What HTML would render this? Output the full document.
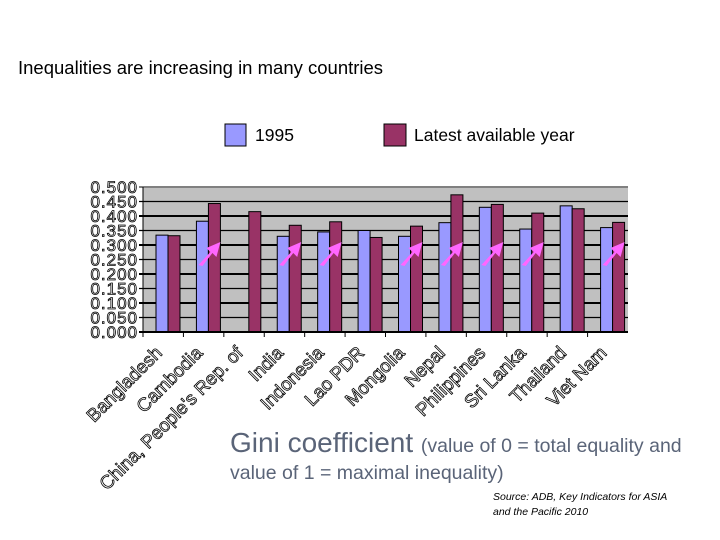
<!DOCTYPE html>
<html><head><meta charset="utf-8"><style>
body{margin:0;background:#fff;}
svg{display:block;font-family:"Liberation Sans",sans-serif;}
</style></head><body>
<svg id="c" width="720" height="540">
<text x="18" y="74" font-size="18.5">Inequalities are increasing in many countries</text>
<rect x="225" y="124" width="21" height="22" fill="#9999ff" stroke="#000"/>
<text x="255" y="141" font-size="17.5">1995</text>
<rect x="384" y="124" width="22" height="22" fill="#993366" stroke="#000"/>
<text x="414" y="141" font-size="17.5">Latest available year</text>
<g id="plot"></g>
<text x="230" y="452" font-size="28" fill="#5a6478">Gini coefficient <tspan font-size="19.5">(value of 0 = total equality and</tspan></text>
<text x="230" y="479" font-size="19.5" fill="#5a6478">value of 1 = maximal inequality)</text>
<text x="493" y="500" font-size="10.5" font-style="italic">Source: ADB, Key Indicators for ASIA</text>
<text x="493" y="515" font-size="10.5" font-style="italic">and the Pacific 2010</text>
</svg>
<script>
const categories=["Bangladesh","Cambodia","China, People's Rep. of","India","Indonesia","Lao PDR","Mongolia","Nepal","Philippines","Sri Lanka","Thailand","Viet Nam"];
const v1995=[0.334,0.382,null,0.330,0.345,0.350,0.330,0.377,0.430,0.355,0.435,0.360];
const vLatest=[0.332,0.443,0.415,0.368,0.380,0.326,0.365,0.473,0.440,0.410,0.425,0.378];
const arrows=[false,true,false,true,true,false,true,true,true,true,false,true];
const yTicks=[0,0.05,0.1,0.15,0.2,0.25,0.3,0.35,0.4,0.45,0.5];
const NS="http://www.w3.org/2000/svg";
const g=document.getElementById('plot');
const L=143,R=628,T=187,B=332;
const y=v=>B-(v/0.5)*(B-T);
const gw=(R-L)/categories.length;
const x=i=>L+i*gw;
function el(t,a){const e=document.createElementNS(NS,t);for(const k in a)e.setAttribute(k,a[k]);g.appendChild(e);return e;}
let bg=el('rect',{x:L,y:T,width:R-L,height:B-T,fill:'#c0c0c0'});


yTicks.forEach(t=>{
 let ln=el('line',{x1:L-4,x2:R,y1:y(t),y2:y(t),stroke:t===0.5?'#808080':'#000','stroke-width':(Math.round(t*100)%10===0)?2:1.3});
 
 
 let tx=el('text',{x:L-5,y:y(t)+6,'text-anchor':'end','font-size':17,'letter-spacing':1,fill:'#fff',stroke:'#000','stroke-width':0.8});
 tx.textContent=t.toFixed(3);
 
 
});
categories.forEach((c,i)=>{
 const bx=x(i)+13;
 if(v1995[i]!==null){
  let b=el('rect',{x:bx,y:y(v1995[i]),width:12,height:B-y(v1995[i]),fill:'#9999ff',stroke:'#000','stroke-width':1});
  
  
 }
 let b2=el('rect',{x:bx+12,y:y(vLatest[i]),width:12,height:B-y(vLatest[i]),fill:'#993366',stroke:'#000','stroke-width':1});
 
 
 let tk=el('line',{x1:x(i),x2:x(i),y1:B,y2:B+5,stroke:'#000'});
 
 
 const ax=x(i)+gw/2,ay=B+22;
 let lb=el('text',{x:ax,y:ay,'text-anchor':'end','font-size':18.5,fill:'#fff',stroke:'#000','stroke-width':0.8,transform:`rotate(-45 ${ax} ${ay})`});
 lb.textContent=c;
 
 
 if(arrows[i]){
  const sx=x(i)+15,sy=265;
  let ar=el('path',{d:`M${sx} ${sy} L${sx+12} ${sy-13} L${sx+8} ${sy-17} L${sx+22} ${sy-23} L${sx+18} ${sy-8} L${sx+14} ${sy-12} L${sx+4} ${sy+1} Z`,fill:'#ff66ff'});
  
  
 }
});
let ax=el('line',{x1:L,x2:R,y1:B,y2:B,stroke:'#000','stroke-width':2});


let ay=el('line',{x1:L,x2:L,y1:T,y2:B,stroke:'#000','stroke-width':1});


</script>
</body></html>
